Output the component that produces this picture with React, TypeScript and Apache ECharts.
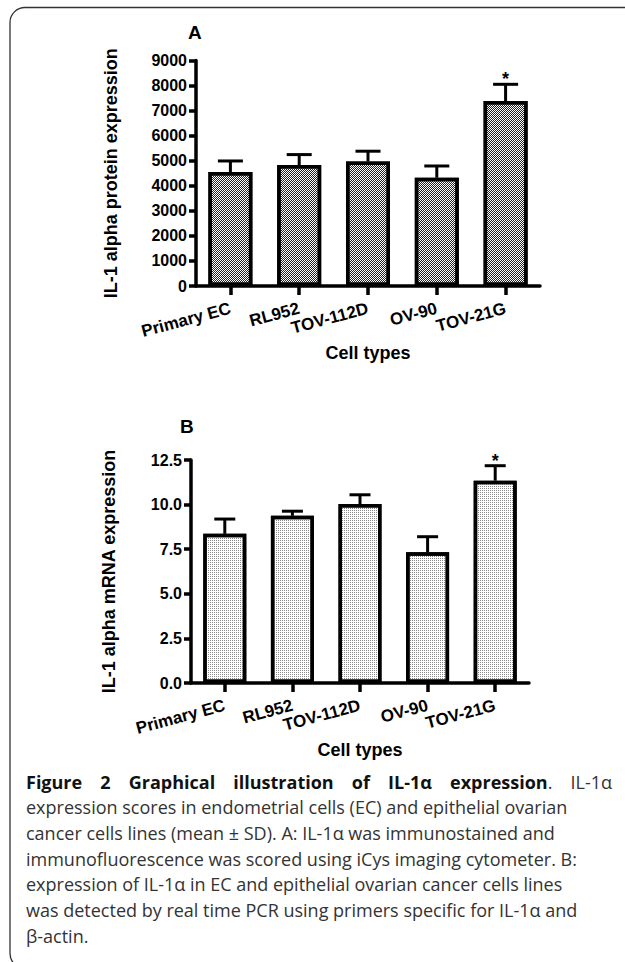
import React, { useEffect, useRef } from "react";
import * as echarts from "echarts";

// ---- data ----
const categories = ["Primary EC", "RL952", "TOV-112D", "OV-90", "TOV-21G"];
const proteinMean = [4550, 4830, 4970, 4320, 7380];
const proteinSD = [440, 415, 410, 470, 670];
const mrnaMean = [8.36, 9.37, 10.03, 7.33, 11.34];
const mrnaSD = [0.83, 0.26, 0.52, 0.87, 0.84];
const significance = ["", "", "", "", "*"];
const proteinAxis = { min: 0, max: 9000, interval: 1000 };
const mrnaAxis = { min: 0, max: 12.5, interval: 2.5 };
const panelLabels = ["A", "B"];
const yTitles = ["IL-1 alpha protein expression", "IL-1 alpha mRNA expression"];
const xTitle = "Cell types";

const captionLine1 = [
  { b: "Figure" }, { b: "2" }, { b: "Graphical" }, { b: "illustration" }, { b: "of" },
  { b: "IL-1\u03b1" }, { b: "expression", r: "." }, { r: "IL-1\u03b1" },
];
const captionLines = [
  "expression scores in endometrial cells (EC) and epithelial ovarian",
  "cancer cells lines (mean \u00b1 SD). A: IL-1\u03b1 was immunostained and",
  "immunofluorescence was scored using iCys imaging cytometer. B:",
  "expression of IL-1\u03b1 in EC and epithelial ovarian cancer cells lines",
  "was detected by real time PCR using primers specific for IL-1\u03b1 and",
  "\u03b2-actin.",
];

const FONT = '"Liberation Sans", Arial, Helvetica, sans-serif';
const CAP_FONT = '"Open Sans", "Noto Sans", sans-serif';
const CAP_SIZE = 18;

function measure(text: string, weight: string) {
  const c = document.createElement("canvas").getContext("2d")!;
  c.font = `${weight} ${CAP_SIZE}px "Open Sans"`;
  return c.measureText(text).width;
}

function errorSeries(axisIndex: number, mean: number[], sd: number[], capHalf: number) {
  return {
    type: "custom",
    xAxisIndex: axisIndex,
    yAxisIndex: axisIndex,
    z: 5,
    silent: true,
    data: mean.map((m, i) => [i, m, m + sd[i]]),
    renderItem: (params: any, api: any) => {
      const base = api.coord([api.value(0), api.value(1)]);
      const top = api.coord([api.value(0), api.value(2)]);
      const children: any[] = [
        { type: "line", shape: { x1: base[0], y1: base[1], x2: top[0], y2: top[1] }, style: { stroke: "#000", lineWidth: 3 } },
        { type: "line", shape: { x1: top[0] - capHalf, y1: top[1], x2: top[0] + capHalf, y2: top[1] }, style: { stroke: "#000", lineWidth: 3 } },
      ];
      const s = significance[params.dataIndex];
      if (s) {
        children.push({
          type: "text",
          x: top[0],
          y: top[1] + 4,
          style: { text: s, fontSize: 18, fontWeight: "bold", fill: "#000", align: "center", verticalAlign: "bottom", fontFamily: FONT },
        });
      }
      return { type: "group", children };
    },
  };
}

export default function App() {
  const ref = useRef<HTMLDivElement>(null);
  useEffect(() => {
    const chart = echarts.init(ref.current!, undefined, { renderer: "svg" });

    const axisLine = { show: true, lineStyle: { color: "#000", width: 3.5 } };
    const labelStyle = { color: "#000", fontWeight: "bold", fontFamily: FONT };
    const nameStyle = { color: "#000", fontWeight: "bold", fontFamily: FONT, fontSize: 18 };

    const xAxis = (gi: number) => ({
      gridIndex: gi,
      type: "category",
      data: categories,
      axisLine,
      axisTick: { show: true, alignWithLabel: true, length: 9, lineStyle: { color: "#000", width: 3.5 } },
      axisLabel: { ...labelStyle, fontSize: 17, rotate: 15, margin: 22, interval: 0 },
      name: xTitle,
      nameLocation: "middle",
      nameGap: 58,
      nameTextStyle: nameStyle,
    });
    const yAxis = (gi: number, ax: any, title: string, fmt: (v: number) => string, gapN: number) => ({
      gridIndex: gi,
      type: "value",
      min: ax.min,
      max: ax.max,
      interval: ax.interval,
      axisLine,
      axisTick: { show: true, length: 7, lineStyle: { color: "#000", width: 3.5 } },
      splitLine: { show: false },
      axisLabel: { ...labelStyle, fontSize: 16, margin: 9, formatter: fmt },
      name: title,
      nameLocation: "middle",
      nameGap: gapN,
      nameTextStyle: nameStyle,
    });

    const graphics: any[] = [];
    graphics.push({
      type: "rect",
      shape: { x: 10, y: 7.5, width: 700, height: 961, r: 15 },
      style: { fill: "none", stroke: "#333", lineWidth: 1.3 },
    });
    graphics.push({ type: "text", x: 188, y: 23, style: { text: panelLabels[0], fontSize: 19, fontWeight: "bold", fontFamily: FONT, fill: "#000", verticalAlign: "top" } });
    graphics.push({ type: "text", x: 180, y: 417, style: { text: panelLabels[1], fontSize: 19, fontWeight: "bold", fontFamily: FONT, fill: "#000", verticalAlign: "top" } });

    const capLeft = 26;
    const capRight = 612;
    const base0 = 788;
    const lineStep = 25.7;
    const yOff = CAP_SIZE * 0.36;
    const widths = captionLine1.map((t) => (t.b ? measure(t.b, "bold") : 0) + (t.r ? measure(t.r, "normal") : 0));
    const total = widths.reduce((a, b) => a + b, 0);
    const gap = (capRight - capLeft - total) / (captionLine1.length - 1);
    let cx = capLeft;
    captionLine1.forEach((t, i) => {
      if (t.b) {
        graphics.push({ type: "text", x: cx, y: base0 - yOff, style: { text: t.b, fontSize: CAP_SIZE, fontWeight: "bold", fontFamily: CAP_FONT, fill: "#111", verticalAlign: "middle" } });
      }
      if (t.r) {
        const bx = t.b ? measure(t.b, "bold") : 0;
        graphics.push({ type: "text", x: cx + bx, y: base0 - yOff, style: { text: t.r, fontSize: CAP_SIZE, fontFamily: CAP_FONT, fill: "#333", verticalAlign: "middle" } });
      }
      cx += widths[i] + gap;
    });
    captionLines.forEach((line, i) => {
      graphics.push({
        type: "text",
        x: capLeft,
        y: base0 + lineStep * (i + 1) - yOff,
        style: { text: line, fontSize: CAP_SIZE, fontFamily: CAP_FONT, fill: "#333", verticalAlign: "middle" },
      });
    });

    const option: any = {
      animation: false,
      backgroundColor: "#fff",
      grid: [
        { left: 196, top: 60.5, width: 344, height: 225.5 },
        { left: 191, top: 460, width: 338, height: 223 },
      ],
      xAxis: [xAxis(0), xAxis(1)],
      yAxis: [
        yAxis(0, proteinAxis, yTitles[0], (v: number) => String(v), 76),
        yAxis(1, mrnaAxis, yTitles[1], (v: number) => v.toFixed(1), 73),
      ],
      series: [
        {
          type: "bar",
          xAxisIndex: 0,
          yAxisIndex: 0,
          data: proteinMean,
          barWidth: 44,
          silent: true,
          z: 2,
          itemStyle: {
            color: "#fff",
            borderColor: "#000",
            borderWidth: 3.5,
            decal: { symbol: "rect", symbolSize: 1, dashArrayX: [[1, 1], [0, 1, 1, 0]], dashArrayY: [1, 0], color: "#222", rotation: 0 },
          },
        },
        {
          type: "bar",
          xAxisIndex: 1,
          yAxisIndex: 1,
          data: mrnaMean,
          barWidth: 43,
          silent: true,
          z: 2,
          itemStyle: {
            color: "#fff",
            borderColor: "#000",
            borderWidth: 3.5,
            decal: { symbol: "rect", symbolSize: 1, dashArrayX: [1, 1], dashArrayY: [1, 1], color: "#888", rotation: 0 },
          },
        },
        errorSeries(0, proteinMean, proteinSD, 12.5),
        errorSeries(1, mrnaMean, mrnaSD, 10.5),
      ],
      graphic: graphics,
    };
    chart.setOption(option);
    return () => chart.dispose();
  }, []);
  return <div ref={ref} style={{ position: "absolute", left: 0, top: 0, width: 625, height: 962, background: "#fff" }} />;
}
